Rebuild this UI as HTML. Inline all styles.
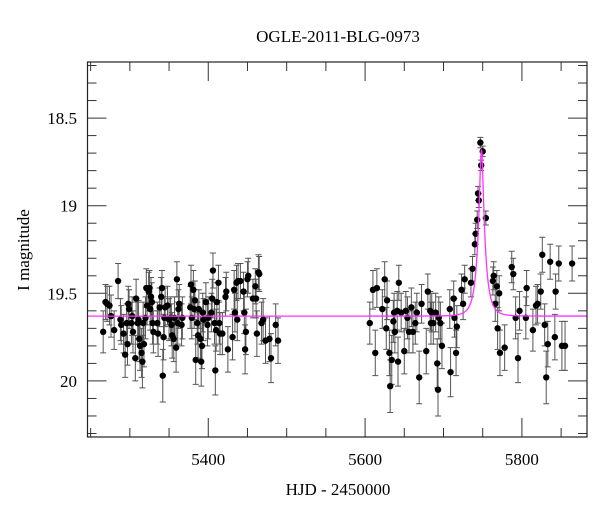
<!DOCTYPE html>
<html><head><meta charset="utf-8"><style>
html,body{margin:0;padding:0;background:#fff;}
svg{display:block;font-family:"Liberation Serif","DejaVu Serif",serif;}
</style></head><body>
<svg id="chart" width="600" height="512" viewBox="0 0 600 512" xmlns="http://www.w3.org/2000/svg">
<text x="338" y="42" text-anchor="middle" font-size="17">OGLE-2011-BLG-0973</text>
<text x="338" y="495" text-anchor="middle" font-size="17">HJD - 2450000</text>
<text transform="translate(29,250) rotate(-90)" text-anchor="middle" font-size="17">I magnitude</text>
<g id="plot"></g>
</svg>
<script>
const xTicks = [5400, 5600, 5800];
const yTicks = [18.5, 19, 19.5, 20];
const yTickLabels = ["18.5", "19", "19.5", "20"];
const hjd = [5266,5269,5271,5274,5276,5280,5285,5288,5289,5292,
5294,5297,5296,5298,5299,5302,5303,5304,5307,5308,
5310,5311,5312,5313,5315,5316,5317,5318,5320,5321,
5322,5324,5325,5326,5327,5329,5330,5328,5335,5336,
5338,5340,5341,5342,5343,5344,5345,5348,5350,5352,
5353,5354,5356,5357,5359,5360,5361,5362,5363,5366,5367,
5378,5381,5377,5379,5382,5383,5384,5386,5387,5388,
5390,5391,5392,5393,5394,5397,5399,5400,5405,5406,
5404,5408,5409,5410,5411,5413,5414,5415,5418,5422,
5423,5425,5431,5433,5434,5436,5437,5438,5441,5445,
5446,5447,5448,5450,5451,5457,5460,5461,5462,5464,
5465,5468,5470,5473,5478,5480,5486,5489,
5606,5610,5613,5615,5622,5625,5627,5628,5631,5632,
5634,5636,5637,5638,5641,5642,5643,5646,5650,5652,
5654,5656,5659,5661,5664,5666,5669,5672,5678,5680,
5683,5684,5685,5687,5690,5692,5693,5694,5696,5698,
5708,5709,5713,5714,5716,5717,5723,5725,5727,5735,
5737,5740,5741,5743,5744,5745,5748,5747,5750,5754,
5763,5764,5766,5768,5769,5771,5772,5778,5787,5789,
5792,5795,5797,5806,5805,5814,5818,5820,5824,5826,
5829,5831,5833,5836,5843,5842,5847,5851,5855,5864];
const mag = [19.72,19.55,19.56,19.57,19.63,19.71,19.43,19.65,19.68,19.73,
19.85,19.79,19.67,19.56,19.59,19.67,19.63,19.72,19.87,19.53,
19.67,19.65,19.76,19.80,19.84,19.89,19.67,19.79,19.64,19.47,
19.57,19.49,19.47,19.59,19.52,19.67,19.72,19.55,19.67,19.73,
19.58,19.52,19.47,19.97,19.75,19.64,19.58,19.57,19.65,19.64,
19.68,19.74,19.76,19.64,19.81,19.42,19.67,19.59,19.56,19.68,19.64,
19.45,19.48,19.58,19.64,19.59,19.54,19.88,19.67,19.74,19.59,
19.76,19.89,19.80,19.61,19.65,19.55,19.68,19.64,19.53,19.37,
19.61,19.67,19.94,19.71,19.55,19.44,19.67,19.73,19.73,19.52,
19.49,19.82,19.75,19.48,19.61,19.44,19.65,19.43,19.43,19.49,
19.61,19.82,19.72,19.42,19.40,19.53,19.46,19.53,19.73,19.38,
19.39,19.67,19.65,19.77,19.76,19.87,19.68,19.77,
19.67,19.48,19.84,19.47,19.59,19.42,19.70,19.54,19.84,20.03,
19.88,19.66,19.61,19.72,19.60,19.89,19.44,19.61,19.83,19.60,
19.64,19.72,19.58,19.72,19.67,19.61,19.98,19.56,19.83,19.49,
19.60,19.67,19.61,19.67,19.61,19.90,20.05,19.64,19.67,19.80,
19.59,19.95,19.53,19.64,19.84,19.69,19.48,19.56,19.42,19.44,
19.36,19.22,19.16,19.08,18.93,18.97,18.77,18.64,18.69,19.07,
19.43,19.40,19.56,19.46,19.70,19.50,19.84,19.81,19.35,19.39,
19.64,19.87,19.60,19.47,19.64,19.71,19.57,19.56,19.49,19.28,
19.68,19.98,19.79,19.32,19.49,19.75,19.33,19.80,19.80,19.33];
const err = [0.12,0.10,0.10,0.11,0.12,0.11,0.10,0.12,0.11,0.11,
0.13,0.12,0.11,0.10,0.11,0.12,0.11,0.12,0.13,0.11,
0.12,0.11,0.13,0.14,0.14,0.15,0.12,0.13,0.12,0.11,
0.11,0.11,0.10,0.12,0.11,0.12,0.12,0.11,0.12,0.13,
0.11,0.11,0.10,0.15,0.13,0.12,0.11,0.11,0.12,0.12,
0.12,0.13,0.13,0.12,0.14,0.10,0.12,0.11,0.11,0.12,0.12,
0.11,0.11,0.12,0.12,0.11,0.11,0.14,0.12,0.13,0.11,
0.13,0.14,0.13,0.11,0.12,0.11,0.12,0.12,0.11,0.10,
0.11,0.12,0.14,0.12,0.11,0.10,0.12,0.12,0.12,0.11,
0.11,0.13,0.13,0.11,0.11,0.10,0.12,0.10,0.10,0.11,
0.12,0.14,0.13,0.10,0.10,0.11,0.10,0.11,0.13,0.10,
0.10,0.12,0.12,0.13,0.13,0.14,0.12,0.13,
0.12,0.11,0.13,0.11,0.11,0.10,0.12,0.11,0.13,0.15,
0.14,0.12,0.11,0.12,0.11,0.14,0.10,0.11,0.13,0.11,
0.12,0.12,0.11,0.12,0.12,0.11,0.15,0.11,0.13,0.10,
0.11,0.12,0.11,0.12,0.11,0.14,0.15,0.12,0.12,0.13,
0.11,0.14,0.10,0.11,0.13,0.12,0.09,0.09,0.08,0.08,
0.07,0.06,0.06,0.05,0.04,0.04,0.03,0.03,0.03,0.04,
0.08,0.08,0.10,0.09,0.12,0.10,0.13,0.13,0.09,0.09,
0.12,0.14,0.11,0.10,0.12,0.12,0.11,0.11,0.10,0.10,
0.12,0.15,0.13,0.10,0.10,0.13,0.10,0.14,0.14,0.10];
const model = {base: 19.63, t0: 5748.4, tE: 10, u0: 0.25, fs: 0.45};

const NS = "http://www.w3.org/2000/svg";
const L = 87.5, R = 587, T = 62, B = 437;
const xMin = 5246, xMax = 5883, yMin = 18.18, yMax = 20.32;
const xs = v => L + (v - xMin) / (xMax - xMin) * (R - L);
const ys = v => T + (v - yMin) / (yMax - yMin) * (B - T);
const plot = document.getElementById('plot');
function mk(tag, attrs, parent) {
  const e = document.createElementNS(NS, tag);
  for (const k in attrs) e.setAttribute(k, attrs[k]);
  (parent || plot).appendChild(e);
  return e;
}

// ticks
const tickG = mk('g', {});


for (let v = 5250; v <= 5880; v += 50) {
  const x = xs(v), major = v % 200 === 0, len = major ? 19 : 9;
  mk('line', {x1: x, x2: x, y1: B, y2: B - len, stroke: '#333', 'stroke-width': 1}, tickG);
  mk('line', {x1: x, x2: x, y1: T, y2: T + len, stroke: '#333', 'stroke-width': 1}, tickG);
}
for (let i = 19; i <= 203; i++) {
  const v = i / 10;
  if (v < yMin || v > yMax) continue;
  const y = ys(v), major = i % 5 === 0, len = major ? 19 : 9;
  mk('line', {x1: L, x2: L + len, y1: y, y2: y, stroke: '#333', 'stroke-width': 1}, tickG);
  mk('line', {x1: R, x2: R - len, y1: y, y2: y, stroke: '#333', 'stroke-width': 1}, tickG);
}
xTicks.forEach(v => {
  const t = mk('text', {x: xs(v), y: 465, 'text-anchor': 'middle', 'font-size': 17});
  t.textContent = v;
  
  
});
yTicks.forEach((v, i) => {
  const t = mk('text', {x: 77, y: ys(v) + 6, 'text-anchor': 'end', 'font-size': 17});
  t.textContent = yTickLabels[i];
  
  
});

// model curve
let d = '';
for (let t = xMin; t <= xMax; t += 0.25) {
  const u = Math.sqrt(model.u0 * model.u0 + Math.pow((t - model.t0) / model.tE, 2));
  const A = (u * u + 2) / (u * Math.sqrt(u * u + 4));
  const m = model.base - 2.5 * Math.log10(1 + model.fs * (A - 1));
  d += (d ? 'L' : 'M') + xs(t).toFixed(2) + ',' + ys(m).toFixed(2);
}

// error bars & points
const dataG = mk('g', {});


hjd.forEach((h, i) => {
  const x = xs(h), e = err[i] || 0.12;
  const y1 = ys(mag[i] - e), y2 = ys(mag[i] + e);
  const eb = mk('path', {d: `M${x},${y1}V${y2}M${x-3},${y1}H${x+3}M${x-3},${y2}H${x+3}`, stroke: '#555', 'stroke-width': 1, fill: 'none'}, dataG);
  
  
});
const curve = mk('path', {d: d, stroke: '#ff33ff', 'stroke-width': 1.3, fill: 'none'});


hjd.forEach((h, i) => {
  const c = mk('circle', {cx: xs(h), cy: ys(mag[i]), r: 3.2, fill: '#000'}, dataG);
  
  
});
plot.appendChild(dataG);
plot.appendChild(curve);
const frame = mk('rect', {x: L, y: T, width: R - L, height: B - T, fill: 'none', stroke: '#222', 'stroke-width': 1.2});


</script>
</body></html>
